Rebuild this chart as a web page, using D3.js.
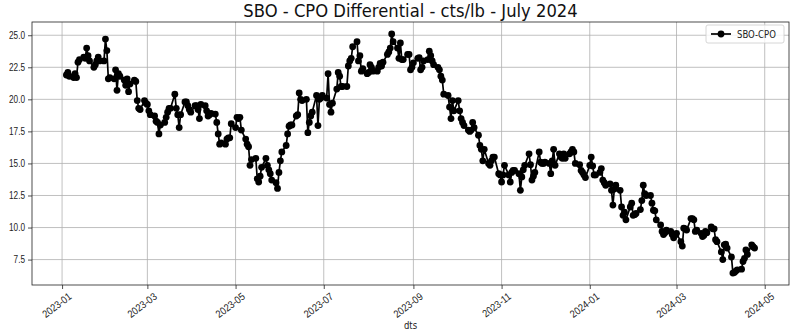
<!DOCTYPE html>
<html>
<head>
<meta charset="utf-8">
<script src="https://cdn.jsdelivr.net/npm/d3@7"></script>
<style>
  body { margin: 0; background: #fff; }
  svg { display: block; font-family: "DejaVu Sans", sans-serif; }
</style>
</head>
<body>
<script>
// monthly blocks of daily settlement differentials (cts/lb), one value per weekday
const v2301 = [21.9, 22.1, 21.8, 21.7, 22.0, 21.7, 22.9, 23.1, 23.3, 23.2, 24.0, 23.4, 23.0, 22.5, 22.7, 23.0, 23.3, 23.0, 23.0, 24.7];
const v2302 = [23.8, 21.6, 21.7, 21.6, 22.3, 20.7, 22.0, 21.8, 21.5, 21.1, 21.6, 20.6, 21.2, 21.5, 21.4, 19.9, 19.3, 19.2, 19.9, 19.7];
const v2303 = [19.6, 19.1, 18.8, 18.7, 18.3, 18.2, 17.3, 18.0, 18.2, 18.6, 19.0, 19.3, 19.3, 20.4, 19.3, 18.8, 17.8, 18.8, 19.8, 19.8, 19.5, 19.2, 19.0];
const v2304 = [19.5, 19.5, 19.2, 18.5, 19.6, 19.5, 19.1, 18.7, 18.8, 18.9, 18.85, 18.2, 17.3, 16.5, 16.6, 16.5, 16.9, 17.0, 17.0, 18.1];
const v2305 = [17.8, 18.6, 18.5, 18.6, 17.6, 16.9, 16.5, 16.3, 14.85, 15.3, 15.4, 13.8, 13.55, 14.0, 14.7, 15.4, 14.85, 14.5, 14.2, 13.7, 13.5, 13.05, 14.3];
const v2306 = [15.2, 15.9, 16.4, 17.3, 17.9, 18.0, 18.0, 18.7, 18.8, 20.5, 20.0, 19.9, 20.0, 17.4, 18.2, 18.7, 19.0, 20.3, 17.95, 20.0, 20.1, 20.3];
const v2307 = [20.1, 22.0, 19.6, 19.0, 19.7, 20.8, 22.1, 21.8, 21.0, 21.0, 21.0, 22.6, 23.0, 23.2, 24.1, 24.5, 23.0, 23.4, 22.2, 22.4, 22.0];
const v2308 = [22.1, 22.7, 22.5, 22.2, 22.2, 22.5, 22.8, 22.6, 22.9, 23.5, 23.7, 24.0, 25.1, 24.5, 24.0, 23.2, 24.4, 23.1, 23.1, 23.5, 23.5, 22.3, 22.5];
const v2309 = [22.85, 23.2, 23.25, 22.3, 22.5, 23.0, 23.1, 23.75, 23.4, 23.0, 22.7, 22.5, 22.3, 21.8, 21.5, 20.4, 20.3, 19.4, 18.5, 19.9, 19.1];
const v2310 = [19.9, 19.1, 18.5, 18.2, 17.95, 17.6, 17.5, 17.6, 18.2, 17.8, 17.2, 16.4, 16.1, 15.2, 16.1, 15.0, 14.85, 15.2, 15.5, 15.5, 14.2, 14.1];
const v2311 = [13.55, 14.1, 14.85, 14.1, 13.55, 14.3, 14.45, 14.45, 14.2, 12.9, 13.95, 14.5, 14.85, 15.75, 14.9, 13.7, 14.0, 14.3, 15.9, 15.1, 15.0, 15.0];
const v2312 = [15.1, 15.0, 14.2, 15.2, 16.1, 14.85, 15.75, 15.5, 15.4, 15.75, 15.4, 15.75, 15.9, 16.1, 15.9, 15.0, 14.9, 14.45, 14.3, 14.1, 13.9];
const v2401 = [14.85, 15.5, 14.8, 14.1, 14.1, 14.3, 14.6, 13.7, 13.5, 13.3, 13.4, 12.9, 11.75, 13.0, 13.3, 12.9, 11.6, 10.95, 11.2, 10.6, 11.6, 11.9, 10.95];
const v2402 = [11.0, 11.1, 11.4, 12.1, 13.3, 12.65, 12.5, 12.5, 11.9, 11.35, 11.3, 10.6, 10.2, 9.7, 9.45, 9.6, 9.8, 9.7, 9.45, 9.2, 9.4];
const v2403 = [9.55, 8.9, 8.55, 9.95, 9.9, 9.8, 10.7, 10.7, 10.6, 9.7, 9.8, 9.55, 9.3, 9.4, 9.7, 9.6, 10.05, 9.9, 9.9, 9.05, 8.9];
const v2404 = [8.1, 7.5, 8.65, 8.7, 8.4, 7.7, 6.45, 6.5, 6.6, 6.7, 6.75, 7.35, 7.6, 8.25, 7.9, 8.65, 8.5, 8.4];

const monthStarts = ['2023-01-04', '2023-02-01', '2023-03-01', '2023-04-01', '2023-05-01', '2023-06-01',
  '2023-07-01', '2023-08-01', '2023-09-01', '2023-10-01', '2023-11-01', '2023-12-01',
  '2024-01-01', '2024-02-01', '2024-03-01', '2024-04-01'];
const monthValues = [v2301, v2302, v2303, v2304, v2305, v2306, v2307, v2308,
  v2309, v2310, v2311, v2312, v2401, v2402, v2403, v2404];

const yTicks = [7.5, 10.0, 12.5, 15.0, 17.5, 20.0, 22.5, 25.0];
const xTicks = ['2023-01', '2023-03', '2023-05', '2023-07', '2023-09', '2023-11', '2024-01', '2024-03', '2024-05'];

const title = 'SBO - CPO Differential - cts/lb - July 2024';
const seriesName = 'SBO-CPO';
const xLabel = 'dts';

const parseDay = d3.timeParse('%Y-%m-%d');
const parseMonth = d3.timeParse('%Y-%m');

// weekdays of each month, paired with that month's values
const data = monthStarts.flatMap((s, i) => {
  const d0 = parseDay(s);
  const end = d3.timeMonth.offset(d3.timeMonth.floor(d0), 1);
  const days = d3.timeDay.range(d0, end).filter(d => d.getDay() % 6 !== 0);
  return monthValues[i].map((v, j) => ({ date: days[j], value: v }));
});

const width = 800;
const height = 334;
const margin = { top: 22, right: 11, bottom: 49, left: 32 };

// matplotlib-style 5% padding around the data
const pad = (lo, hi) => [lo - (hi - lo) * 0.05, hi + (hi - lo) * 0.05];
const [t0, t1] = d3.extent(data, d => +d.date);
const [v0, v1] = d3.extent(data, d => d.value);

const x = d3.scaleTime()
  .domain(pad(t0, t1).map(t => new Date(t)))
  .range([margin.left, width - margin.right]);

const y = d3.scaleLinear()
  .domain(pad(v0, v1))
  .range([height - margin.bottom, margin.top]);

const svg = d3.select('body')
  .append('svg')
  .attr('width', width)
  .attr('height', height);

// narrow the text a bit, the picture is a little squeezed sideways
function squeeze(sel, k) {
  sel.each(function() {
    const len = this.getComputedTextLength();
    d3.select(this).attr('textLength', len * k).attr('lengthAdjust', 'spacingAndGlyphs');
  });
}

// grid
svg.append('g')
  .selectAll('line')
  .data(yTicks)
  .join('line')
    .attr('x1', margin.left)
    .attr('x2', width - margin.right)
    .attr('y1', d => y(d))
    .attr('y2', d => y(d))
    .attr('stroke', '#b0b0b0')
    .attr('stroke-width', 0.8);

svg.append('g')
  .selectAll('line')
  .data(xTicks.map(parseMonth))
  .join('line')
    .attr('x1', d => x(d))
    .attr('x2', d => x(d))
    .attr('y1', margin.top)
    .attr('y2', height - margin.bottom)
    .attr('stroke', '#b0b0b0')
    .attr('stroke-width', 0.8);

// axes
const xAxis = svg.append('g')
  .attr('transform', `translate(0,${height - margin.bottom})`)
  .call(d3.axisBottom(x)
    .tickValues(xTicks.map(parseMonth))
    .tickFormat(d3.timeFormat('%Y-%m'))
    .tickSize(4)
    .tickPadding(5));

xAxis.selectAll('text')
  .attr('font-size', 10.5)
  .attr('fill', '#222')
  .attr('text-anchor', 'end')
  .attr('dy', '0.7em')
  .attr('transform', 'rotate(-37)')
  .call(squeeze, 0.87);

const yAxis = svg.append('g')
  .attr('transform', `translate(${margin.left},0)`)
  .call(d3.axisLeft(y)
    .tickValues(yTicks)
    .tickFormat(d3.format('.1f'))
    .tickSize(4)
    .tickPadding(3));

yAxis.selectAll('text')
  .attr('font-size', 10)
  .attr('fill', '#222')
  .call(squeeze, 0.82);

svg.selectAll('.domain').remove();
svg.selectAll('.tick line').attr('stroke', '#222').attr('stroke-width', 0.8);

// frame
svg.append('rect')
  .attr('x', margin.left)
  .attr('y', margin.top)
  .attr('width', width - margin.left - margin.right)
  .attr('height', height - margin.top - margin.bottom)
  .attr('fill', 'none')
  .attr('stroke', '#222')
  .attr('stroke-width', 0.8);

// series
svg.append('path')
  .datum(data)
  .attr('fill', 'none')
  .attr('stroke', '#000')
  .attr('stroke-width', 1.7)
  .attr('stroke-linejoin', 'round')
  .attr('d', d3.line().x(d => x(d.date)).y(d => y(d.value)));

svg.append('g')
  .selectAll('circle')
  .data(data)
  .join('circle')
    .attr('cx', d => x(d.date))
    .attr('cy', d => y(d.value))
    .attr('r', 3.4)
    .attr('fill', '#000');

// title and axis label
svg.append('text')
  .attr('x', (margin.left + width - margin.right) / 2)
  .attr('y', 17)
  .attr('text-anchor', 'middle')
  .attr('font-size', 18)
  .attr('fill', '#111')
  .text(title)
  .call(squeeze, 0.91);

svg.append('text')
  .attr('x', (margin.left + width - margin.right) / 2)
  .attr('y', 329)
  .attr('text-anchor', 'middle')
  .attr('font-size', 10)
  .attr('fill', '#222')
  .text(xLabel)
  .call(squeeze, 0.85);

// legend
const legend = svg.append('g')
  .attr('transform', `translate(${width - margin.right - 83},${margin.top + 3})`);

legend.append('rect')
  .attr('width', 78)
  .attr('height', 18)
  .attr('rx', 2)
  .attr('fill', 'rgba(255,255,255,0.8)')
  .attr('stroke', '#ccc')
  .attr('stroke-width', 0.8);

legend.append('line')
  .attr('x1', 5)
  .attr('x2', 25)
  .attr('y1', 9)
  .attr('y2', 9)
  .attr('stroke', '#000')
  .attr('stroke-width', 1.7);

legend.append('circle')
  .attr('cx', 15)
  .attr('cy', 9)
  .attr('r', 3.4)
  .attr('fill', '#000');

legend.append('text')
  .attr('x', 31)
  .attr('y', 12.5)
  .attr('font-size', 10)
  .attr('fill', '#222')
  .text(seriesName)
  .call(squeeze, 0.85);
</script>
</body>
</html>
